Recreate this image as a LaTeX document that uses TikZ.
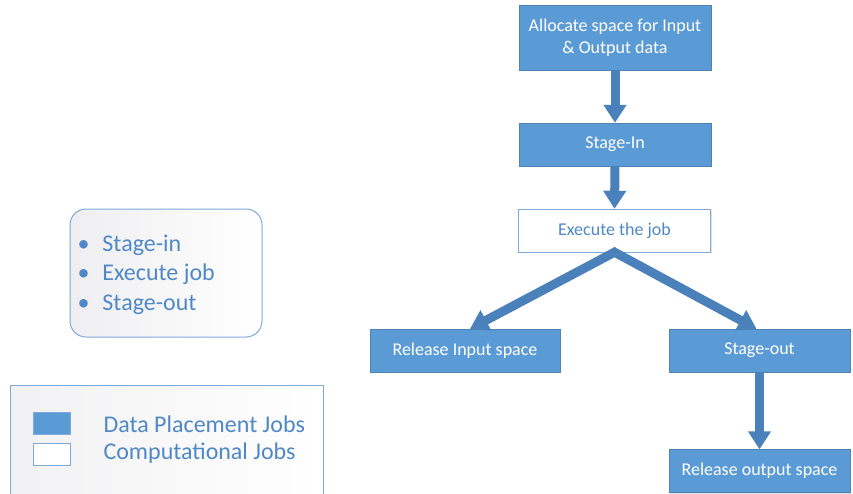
\documentclass[tikz,border=0pt]{standalone}
\usepackage{fontspec}
\setmainfont{Carlito}
\usetikzlibrary{arrows.meta,shadows}

\definecolor{boxblue}{HTML}{5B9BD5}
\definecolor{arrowblue}{HTML}{4A81BA}
\definecolor{lineblue}{HTML}{7FA9D8}
\definecolor{textblue}{HTML}{4F88C6}

\tikzset{
  datajob/.style={draw=boxblue!85!black, line width=0.4pt, fill=boxblue,
    text=white, minimum width=192pt, minimum height=43pt,
    font=\fontsize{18}{21.5}\selectfont, align=center,
    drop shadow={shadow xshift=1pt, shadow yshift=-1pt, opacity=0.25}},
  compjob/.style={datajob, fill=white, draw=lineblue, text=textblue, drop shadow={opacity=0}},
  flow/.style={arrowblue, line width=9pt,
    -{Triangle[width=22pt,length=18pt]}},
  swatch/.style={draw=lineblue, line width=0.8pt, minimum width=37pt, minimum height=22pt}
}

\begin{document}
\begin{tikzpicture}[x=1pt,y=-1pt,line join=miter]
  \useasboundingbox (0,0) rectangle (853,493);

  % Flow of jobs
  \node[datajob, minimum height=65pt] (alloc) at (615,37.5) {Allocate space for Input\\\& Output data};
  \node[datajob] (stagein)  at (615,144.5) {Stage-In};
  \node[compjob] (exec)     at (614.5,230.5) {Execute the job};
  \node[datajob, minimum width=190pt] (relin) at (465,350.5) {Release Input space};
  \node[datajob, minimum width=181pt] (stageout) at (759.5,350.5) {Stage-out};
  \node[datajob, minimum width=181pt] (relout)   at (759.5,471) {Release output space};

  % Arrows
  \draw[flow] (alloc.south) -- (stagein.north);
  \draw[flow] (stagein.south) -- (exec.north);
  \draw[flow, shorten <=-3pt] (exec.south) -- ([xshift=5pt]relin.north);
  \draw[flow, shorten <=-3pt] (exec.south) -- ([xshift=-3pt]stageout.north);
  \draw[flow] (stageout.south) -- (relout.north);

  % Phases box
  \node[draw=lineblue, line width=1pt, rounded corners=16pt,
    left color=blue!7!gray!12, right color=white,
    minimum width=192pt, minimum height=128pt] (phases) at (166,273) {};
  \node[anchor=west, text=textblue, font=\fontsize{24}{29.5}\selectfont] (phaselist) at (74,275)
    {\begin{tabular}{@{}l@{\hspace{13pt}}l@{}}
      \textbullet & Stage-in\\
      \textbullet & Execute job\\
      \textbullet & Stage-out
    \end{tabular}};

  % Legend
  \node[draw=lineblue, line width=1pt, left color=blue!7!gray!10, right color=white,
    minimum width=313pt, minimum height=120pt, anchor=north west] (legend) at (10,385) {};
  \node[swatch, fill=boxblue, drop shadow={shadow xshift=1pt, shadow yshift=-1pt, opacity=0.35}] (dpswatch) at (51.5,423) {};
  \node[swatch, fill=white] (cjswatch) at (51.5,454.5) {};
  \node[anchor=west, text=textblue, font=\fontsize{24}{28}\selectfont] (dplabel) at (100,424) {Data Placement Jobs};
  \node[anchor=west, text=textblue, font=\fontsize{24}{28}\selectfont] (cjlabel) at (100,453) {Computational Jobs};
\end{tikzpicture}
\end{document}
